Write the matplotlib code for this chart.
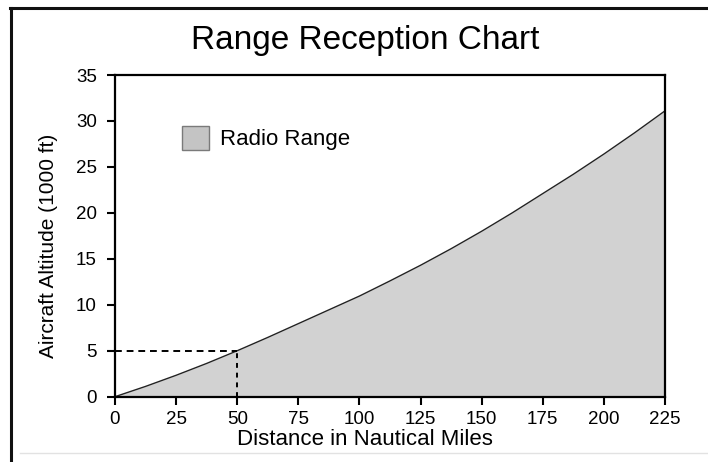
import numpy as np
import matplotlib
matplotlib.use('Agg')
import matplotlib.pyplot as plt
from matplotlib.patches import Patch
from matplotlib.lines import Line2D

plt.rcParams['font.family'] = ['Liberation Sans', 'DejaVu Sans']

# distance (nm) vs altitude (1000 ft) for radio range reception
distance = [0, 12.5, 25, 37.5, 50, 62.5, 75, 87.5, 100, 112.5,
            125, 137.5, 150, 162.5, 175, 187.5, 200, 212.5, 225]
altitude = [0, 1.12, 2.33, 3.62, 5.0, 6.45, 7.95, 9.45, 10.95, 12.6,
            14.3, 16.1, 18.0, 20.0, 22.1, 24.2, 26.4, 28.7, 31.1]

ref_dist = 50
ref_alt = 5

xticks = [0, 25, 50, 75, 100, 125, 150, 175, 200, 225]
yticks = [0, 5, 10, 15, 20, 25, 30, 35]

fig = plt.figure(figsize=(7.08, 4.62), dpi=100)
ax = fig.add_axes([115 / 708, 1 - 396.7 / 462, 550 / 708, 321.7 / 462])

fill_col = '#d2d2d2'
ax.fill_between(distance, altitude, 0, color=fill_col, lw=0, zorder=1)
ax.plot(distance, altitude, color='#222222', lw=1.0, zorder=2)

# dashed reference lines at 50 nm / 5000 ft
ax.plot([0, ref_dist], [ref_alt, ref_alt], color='black', lw=1.4,
        ls=(0, (3.5, 2.5)), zorder=3)
ax.plot([ref_dist, ref_dist], [0, ref_alt], color='black', lw=1.4,
        ls=(0, (2.5, 2.5)), zorder=3)

ax.set_xlim(0, 225)
ax.set_ylim(0, 35)
ax.set_xticks(xticks)
ax.set_yticks(yticks)
ax.tick_params(direction='out', length=6, width=1.5, labelsize=13.5,
               colors='black')
ax.tick_params(axis='x', pad=4)
ax.tick_params(axis='y', pad=7)
for s in ax.spines.values():
    s.set_linewidth(1.6)
    s.set_color('black')

ax.set_xlabel('Distance in Nautical Miles', fontsize=16)
ax.xaxis.set_label_coords(0.4545, -0.1)
ax.set_ylabel('Aircraft Altitude (1000 ft)', fontsize=15)
ax.yaxis.set_label_coords(-0.103, 0.47)

fig.text(365 / 708, 1 - 40 / 462, 'Range Reception Chart', fontsize=24,
         ha='center', va='center')

leg = ax.legend(handles=[Patch(facecolor='#c4c4c4', edgecolor='#7a7a7a',
                               label='Radio Range')],
                loc='upper left', bbox_to_anchor=(0.122, 0.842), frameon=False,
                fontsize=16, handlelength=1.2, handleheight=1.3,
                handletextpad=0.5, borderaxespad=0, borderpad=0)

# page frame
fig.add_artist(Line2D([10 / 708, 1], [1 - 8 / 462, 1 - 8 / 462],
                      color='#111111', lw=2.2))
fig.add_artist(Line2D([11 / 708, 11 / 708], [0, 1 - 8 / 462],
                      color='#111111', lw=2.2))
fig.add_artist(Line2D([20 / 708, 1], [1 - 453 / 462, 1 - 453 / 462],
                      color='#e2e2e2', lw=1.0))

fig.savefig('out.png', dpi=100)
